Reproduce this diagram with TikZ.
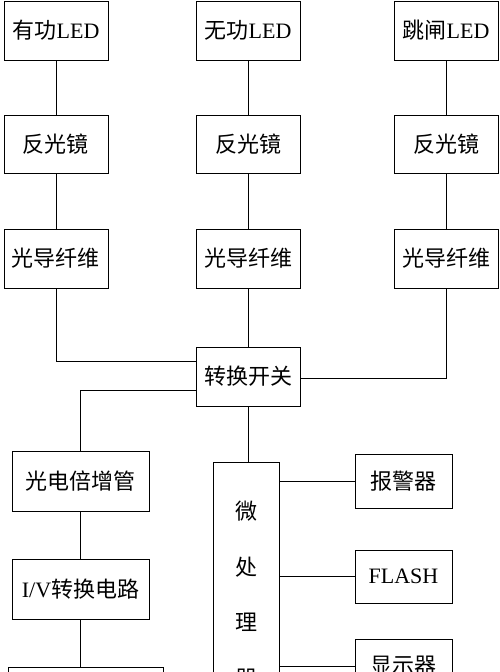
\documentclass[tikz,border=0pt]{standalone}
\usepackage{fontspec}
\setmainfont{Liberation Serif}
\newfontfamily\cjk{Noto Sans CJK SC}
\usetikzlibrary{calc}

\begin{document}
\begin{tikzpicture}[x=1pt, y=-1pt, line width=1pt,
    box/.style={draw, rectangle, inner sep=0pt, minimum width=104pt, minimum height=59pt,
        font=\fontsize{22}{25}\selectfont},
    wire/.style={draw, line width=1pt}]
    \useasboundingbox (0,0) rectangle (500,672);
    \clip (0,0) rectangle (500,672);

    % LED sources (top row)
    \node[box] (ledA) at (56, 30.5) {{\cjk 有功}LED};
    \node[box] (ledB) at (248, 30.5) {{\cjk 无功}LED};
    \node[box] (ledC) at (446, 30.5) {{\cjk 跳闸}LED};

    % Reflectors
    \node[box, minimum height=58pt] (mirA) at (56, 144) {\cjk 反光镜};
    \node[box, minimum height=58pt] (mirB) at (248, 144) {\cjk 反光镜};
    \node[box, minimum height=58pt] (mirC) at (446, 144) {\cjk 反光镜};

    % Optical fibres
    \node[box] (fibA) at (56, 258.5) {\cjk 光导纤维};
    \node[box] (fibB) at (248, 258.5) {\cjk 光导纤维};
    \node[box] (fibC) at (446, 258.5) {\cjk 光导纤维};

    % Switch
    \node[box] (switch) at (248, 376.5) {\cjk 转换开关};

    % Left chain
    \node[box, minimum width=137pt, minimum height=60pt] (pmt) at (80.5, 481) {\cjk 光电倍增管};
    \node[box, minimum width=137pt, minimum height=60pt] (iv) at (80.5, 589) {I/V{\cjk 转换电路}};
    \node[box, minimum width=155pt, minimum height=54pt] (out) at (85.5, 694) {};

    % Microprocessor
    \node[box, minimum width=66pt, minimum height=265pt, align=center,
        font=\fontsize{22}{55.5}\selectfont\cjk] (micro) at (246, 594.5) {微\\处\\理\\器};

    % Peripherals
    \node[box, minimum width=97pt, minimum height=54pt] (alarm) at (403.5, 481) {\cjk 报警器};
    \node[box, minimum width=97pt, minimum height=53pt] (flash) at (403.5, 576.5) {FLASH};
    \node[box, minimum width=97pt, minimum height=54pt] (disp) at (403.5, 666) {\cjk 显示器};

    % Vertical links in the three columns
    \draw[wire] (ledA) -- (mirA);
    \draw[wire] (mirA) -- (fibA);
    \draw[wire] (ledB) -- (mirB);
    \draw[wire] (mirB) -- (fibB);
    \draw[wire] (ledC) -- (mirC);
    \draw[wire] (mirC) -- (fibC);

    % Fibres into the switch
    \draw[wire] (fibA.south) |- ($(switch.north west)!0.25!(switch.south west)$);
    \draw[wire] (fibB) -- (switch);
    \draw[wire] (fibC.south) |- ($(switch.north east)!0.54!(switch.south east)$);

    % Switch outputs
    \draw[wire] ($(switch.north west)!0.73!(switch.south west)$) -| (pmt.north);
    \draw[wire] (switch.south) -- (switch.south |- micro.north);

    % Left chain links
    \draw[wire] (pmt) -- (iv);
    \draw[wire] (iv.south) -- (iv.south |- out.north);

    % Microprocessor to peripherals
    \draw[wire] (alarm.west) -- (alarm.west -| micro.east);
    \draw[wire] (flash.west) -- (flash.west -| micro.east);
    \draw[wire] (disp.west) -- (disp.west -| micro.east);
\end{tikzpicture}
\end{document}
